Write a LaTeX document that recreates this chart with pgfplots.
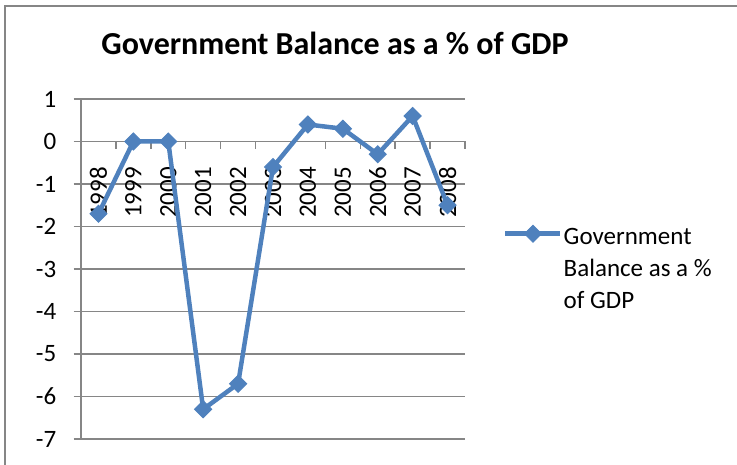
\documentclass[border=0pt]{standalone}
\usepackage{pgfplots}
\pgfplotsset{compat=1.18}
\usepackage{fontspec}
\setmainfont{Carlito}
\definecolor{serie}{HTML}{4F81BD}
\definecolor{gridc}{HTML}{868686}
\begin{document}
\begin{tikzpicture}[x=1bp,y=1bp]
\path[use as bounding box] (0,0) rectangle (737,465);
\draw[gridc, line width=2bp] (5,0) -- (5,459) -- (737,459);
\node[font=\fontsize{32bp}{38bp}\selectfont\bfseries, anchor=base] at (335,410) {Government Balance as a \% of GDP};
\begin{axis}[
  at={(81bp,26bp)}, anchor=south west,
  scale only axis, width=384bp, height=340bp,
  xmin=-0.5, xmax=10.5, ymin=-7, ymax=1,
  axis x line=middle, axis y line=left,
  hide obscured x ticks=false,
  axis line style={-, draw=gridc, line width=1.5bp},
  ytick={-7,...,1},
  yticklabels={-7,-6,-5,-4,-3,-2,-1,0,1},
  ymajorgrids,
  grid style={gridc, line width=1.5bp},
  xtick={-0.5,0.5,...,10.5},
  x tick label as interval,
  xticklabels={1998,1999,2000,2001,2002,2003,2004,2005,2006,2007,2008},
  tick align=outside,
  major tick length=7.5bp,
  tick style={gridc, line width=1.5bp},
  tick label style={font=\fontsize{25bp}{30bp}\selectfont, text=black},
  xticklabel style={rotate=90, anchor=east, inner sep=0pt},
  xticklabel shift=18bp,
  yticklabel style={anchor=east, inner sep=0pt},
  yticklabel shift=17bp,
  legend style={draw=none, fill=none, inner sep=0pt, column sep=1bp,
    at={(1.099,0.6394)}, anchor=north west,
    font=\fontsize{25bp}{32bp}\selectfont, nodes={inner sep=0pt}},
  legend image code/.code={\draw[mark repeat=2,mark phase=2,#1] plot coordinates {(0bp,0bp)(27.5bp,0bp)(55bp,0bp)};},
  clip=false,
]
\addplot[serie, line width=4.5bp, mark=square*, mark size=6bp,
  mark options={rotate=45, solid, line width=1bp, fill=serie}]
  coordinates {(0,-1.7)(1,0)(2,0)(3,-6.3)(4,-5.7)(5,-0.6)(6,0.4)(7,0.3)(8,-0.3)(9,0.6)(10,-1.5)};
\addlegendentry{\begin{tabular}[t]{@{}l@{}}Government\\Balance as a \%\\of GDP\end{tabular}}
\end{axis}
\end{tikzpicture}
\end{document}
